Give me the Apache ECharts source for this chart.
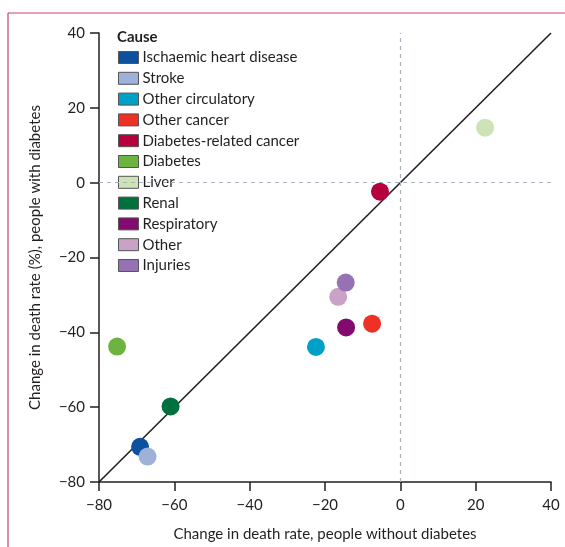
<!DOCTYPE html>
<html><head><meta charset="utf-8">
<script src="https://cdn.jsdelivr.net/npm/echarts@6/dist/echarts.min.js"></script>
<style>html,body{margin:0;padding:0;background:#fff}#c{width:565px;height:547px}</style>
</head><body><div id="c"></div>
<script>
const causes = ['Ischaemic heart disease','Stroke','Other circulatory','Other cancer','Diabetes-related cancer','Diabetes','Liver','Renal','Respiratory','Other','Injuries'];
const colors = ['#0b519f','#9fb0d9','#00a1c7','#ee3124','#b5003b','#6cb43f','#cde3b6','#00703c','#830b6f','#c9a2c6','#9672b4'];
const withoutDiabetes = [-69.1,-67.1,-22.4,-7.5,-5.4,-75.2,22.5,-61.0,-14.4,-16.5,-14.5];
const withDiabetes = [-70.6,-73.2,-43.9,-37.7,-2.4,-43.8,14.7,-59.8,-38.7,-30.5,-26.7];
const xTicks = [-80,-60,-40,-20,0,20,40];
const yTicks = [-80,-60,-40,-20,0,20,40];
const identityLine = [[-80,-80],[40,40]];

const FONT = 'Lato';
const chart = echarts.init(document.getElementById('c'));
const series = causes.map((n,i)=>({
  name:n, type:'scatter', symbolSize:18, z:5,
  itemStyle:{color:colors[i], opacity:1},
  data:[[withoutDiabetes[i], withDiabetes[i]]]
}));
series.unshift({
  name:'identity', type:'line', data:identityLine, symbol:'none', z:3,
  lineStyle:{color:'#231f20', width:1.6}, silent:true,
  markLine:{silent:true, symbol:'none', label:{show:false},
    lineStyle:{color:'#a8b4c0', type:[4,4], width:1.2},
    data:[{xAxis:0},{yAxis:0}]}
});
chart.setOption({
  animation:false,
  textStyle:{fontFamily:FONT},
  title:{text:'Cause', left:117, top:30, padding:0, textStyle:{fontFamily:FONT, fontSize:15, fontWeight:'bold', color:'#231f20'}},
  legend:{orient:'vertical', left:118, top:50, padding:0, data:causes, icon:'rect', itemWidth:20, itemHeight:12, itemGap:5.8,
    itemStyle:{borderColor:'#555', borderWidth:1},
    textStyle:{fontFamily:FONT, fontSize:15, color:'#231f20', padding:[0,0,0,-1]}},
  graphic:[
    {type:'line', shape:{x1:8,y1:13,x2:565,y2:13}, style:{stroke:'#c8416b', lineWidth:1.2}},
    {type:'line', shape:{x1:8,y1:13,x2:8,y2:547}, style:{stroke:'#c8416b', lineWidth:1.2}}
  ],
  grid:{left:99, right:14, top:33, bottom:62},
  xAxis:{type:'value', min:-80, max:40, interval:20,
    name:'Change in death rate, people without diabetes', nameLocation:'middle', nameGap:45,
    nameTextStyle:{fontFamily:FONT, fontSize:15, color:'#231f20'},
    axisLine:{onZero:false, lineStyle:{color:'#231f20', width:1.5}},
    axisTick:{length:9, lineStyle:{color:'#231f20', width:1.5}},
    axisLabel:{fontFamily:FONT, fontSize:15, color:'#231f20', margin:16,
      formatter:v=>xTicks.includes(v)?String(v).replace('-','\u2212'):''},
    splitLine:{show:false}},
  yAxis:{type:'value', min:-80, max:40, interval:20,
    name:'Change in death rate (%), people with diabetes', nameLocation:'middle', nameGap:56,
    nameTextStyle:{fontFamily:FONT, fontSize:15, color:'#231f20'},
    axisLine:{onZero:false, lineStyle:{color:'#231f20', width:1.5}},
    axisTick:{length:9, lineStyle:{color:'#231f20', width:1.5}},
    axisLabel:{fontFamily:FONT, fontSize:15, color:'#231f20', margin:14,
      formatter:v=>yTicks.includes(v)?String(v).replace('-','\u2212'):''},
    splitLine:{show:false}},
  series:series
});
</script></body></html>
